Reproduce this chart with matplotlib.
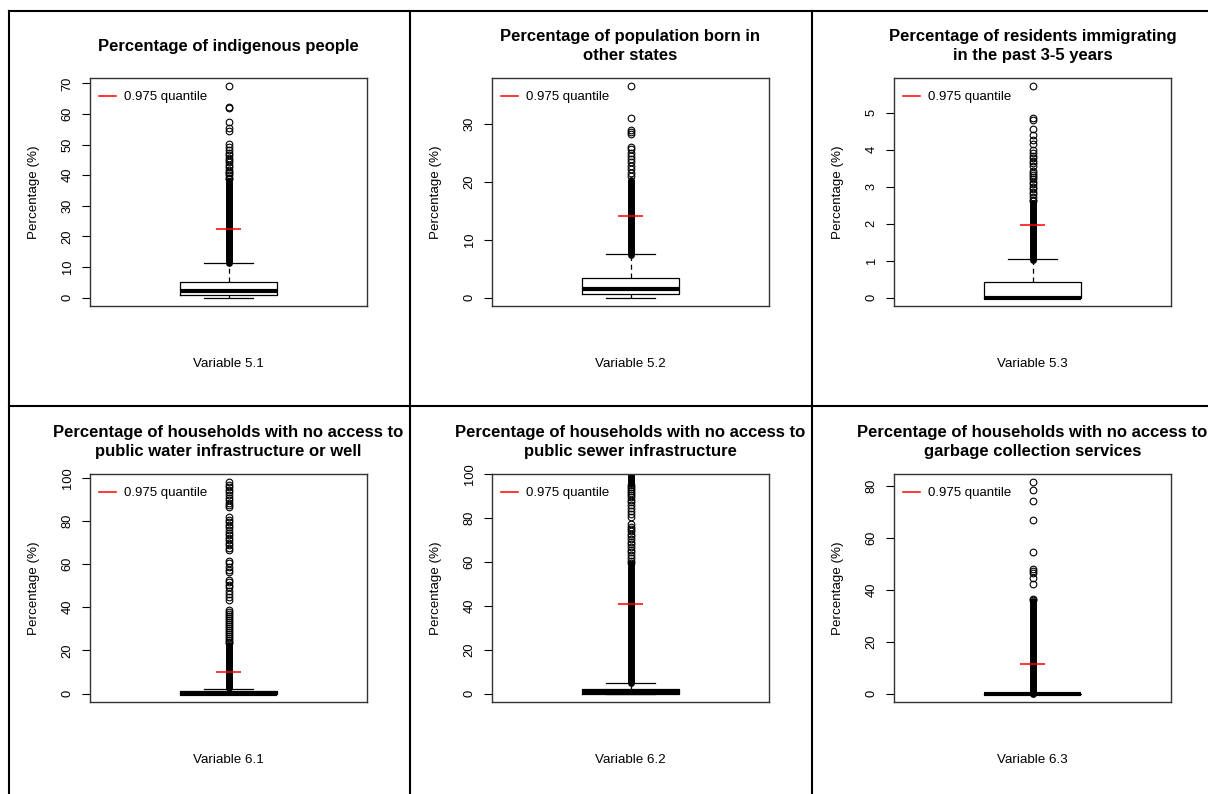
import numpy as np
import matplotlib
matplotlib.use("Agg")
import matplotlib.pyplot as plt
from matplotlib.lines import Line2D

plt.rcParams['font.family'] = ['Liberation Sans', 'DejaVu Sans']

################################################################################
# values (percent)

titles = [
    "Percentage of indigenous people",
    "Percentage of population born in\nother states",
    "Percentage of residents immigrating\nin the past 3-5 years",
    "Percentage of households with no access to\npublic water infrastructure or well",
    "Percentage of households with no access to\npublic sewer infrastructure",
    "Percentage of households with no access to\ngarbage collection services",
]
var_labels = ["Variable 5.1", "Variable 5.2", "Variable 5.3",
              "Variable 6.1", "Variable 6.2", "Variable 6.3"]

q1 = [0.9, 0.6, 0.0, 0.0, 0.0, 0.0]
median = [2.0, 1.4, 0.0, 0.0, 0.65, 0.0]
q3 = [5.05, 3.4, 0.41, 1.1, 1.9, 0.0]
whis_lo = [0.0, 0.0, 0.0, 0.0, 0.0, 0.0]
whis_hi = [11.4, 7.5, 1.04, 2.3, 4.9, 0.0]
q975 = [22.3, 14.1, 1.96, 10.0, 40.7, 11.2]

y_ticks = [
    [0, 10, 20, 30, 40, 50, 60, 70],
    [0, 10, 20, 30],
    [0, 1, 2, 3, 4, 5],
    [0, 20, 40, 60, 80, 100],
    [0, 20, 40, 60, 80, 100],
    [0, 20, 40, 60, 80],
]

# individually visible outliers
outliers_1 = [69.0, 62.3, 61.8, 57.5, 55.5, 54.6, 50.3, 49.3, 48.2, 47.4, 46.5,
              45.6, 45.0, 44.2, 43.4, 42.6, 41.8, 41.2, 40.6, 40.0, 39.2, 38.6]
outliers_2 = [36.5, 31.0, 28.9, 28.6, 28.2, 26.1, 25.6, 25.0, 24.5, 24.0, 23.4,
              22.8, 22.2, 21.6, 21.0]
outliers_3 = [5.71, 4.87, 4.80, 4.57, 4.39, 4.27, 4.14, 4.00, 3.91, 3.84, 3.78,
              3.70, 3.64, 3.55, 3.42, 3.37, 3.31, 3.26, 3.20, 3.13, 3.06, 3.00,
              2.93, 2.86, 2.79, 2.72, 2.65, 2.60]
outliers_4 = [97.8, 96.8, 95.6, 94.4, 93.2, 92.0, 90.8, 89.6, 88.4, 87.2, 86.3,
              81.8, 80.6, 79.4, 78.2, 77.0, 75.8, 74.6, 73.4, 72.2, 71.0, 69.8,
              68.6, 67.4, 66.3, 61.5, 60.3, 58.4, 57.2, 56.2, 52.8, 51.6, 50.5,
              49.5, 47.6, 46.2, 44.8, 43.4, 38.5, 37.6, 36.7, 35.8, 34.9, 34.0,
              33.1, 32.2, 31.3, 30.4, 29.5, 28.6, 27.7, 26.8, 25.9, 25.0, 24.1,
              23.2]
outliers_5 = [95.0, 94.2, 93.2, 92.3, 91.5, 90.6, 89.5, 88.3, 87.2, 86.0, 84.5,
              83.2, 81.8, 80.3, 77.3, 76.0, 75.0, 74.0, 72.8, 71.6, 70.3, 69.2,
              68.0, 66.8, 65.6, 64.3, 63.0, 61.8, 60.6, 59.4]
outliers_6 = [81.3, 78.5, 74.2, 66.8, 54.5, 47.8, 47.2, 46.5, 44.6, 42.3, 36.3,
              35.9]
outliers = [outliers_1, outliers_2, outliers_3, outliers_4, outliers_5, outliers_6]

# ranges where the outlier circles overlap into a solid column
dense_bands = [
    [(11.4, 38.0)],
    [(7.4, 20.4)],
    [(1.02, 2.56)],
    [(2.4, 22.4)],
    [(4.9, 58.8), (95.4, 100.0)],
    [(0.0, 35.6)],
]

################################################################################

W, H = 1208, 794
fig = plt.figure(figsize=(W / 100, H / 100), dpi=100)

ax_left = [90, 492, 894]
ax_top = [78, 474]
ax_w, ax_h = 277, 228

for i in range(6):
    row, col = divmod(i, 3)
    left = ax_left[col] / W
    bottom = (H - ax_top[row] - ax_h) / H
    ax = fig.add_axes([left, bottom, ax_w / W, ax_h / H])

    stats = [dict(med=median[i], q1=q1[i], q3=q3[i], whislo=whis_lo[i],
                  whishi=whis_hi[i], fliers=outliers[i])]
    ax.bxp(stats, positions=[1], widths=0.38,
           boxprops=dict(color='black', linewidth=0.9),
           medianprops=dict(color='black', linewidth=3),
           whiskerprops=dict(color='black', linewidth=0.9, linestyle=(0, (4, 3))),
           capprops=dict(color='black', linewidth=0.9),
           capwidths=0.19,
           flierprops=dict(marker='o', markersize=4.8, markerfacecolor='none',
                           markeredgecolor='black', markeredgewidth=0.8))
    for lo, hi in dense_bands[i]:
        ax.vlines(1, lo, hi, color='black', linewidth=5.0, capstyle='round')
    ax.hlines(q975[i], 1 - 0.05, 1 + 0.05, color='red', linewidth=1.1, zorder=5)

    data_max = max(outliers[i])
    data_min = whis_lo[i]
    rng = data_max - data_min
    ax.set_ylim(data_min - 0.04 * rng, data_max + 0.04 * rng)
    ax.set_xlim(0.46, 1.54)
    ax.set_xticks([])
    ax.set_yticks(y_ticks[i])
    ax.set_yticklabels([str(t) for t in y_ticks[i]])
    ax.tick_params(axis='y', length=5.8, width=0.8, pad=6, labelsize=9.3,
                   labelrotation=90, colors='black')
    for lab in ax.get_yticklabels():
        lab.set_va('center')
    for sp in ax.spines.values():
        sp.set_color('#333333')
        sp.set_linewidth(1.0)

    ax.text(0.5, 1 + 32 / ax_h, titles[i], transform=ax.transAxes,
            ha='center', va='center', fontsize=12, fontweight='bold',
            linespacing=1.3)
    ax.text(0.5, -58 / ax_h, var_labels[i], transform=ax.transAxes,
            ha='center', va='center', fontsize=9.6)
    ax.text(-56 / ax_w, 0.5, "Percentage (%)", transform=ax.transAxes,
            ha='center', va='center', rotation=90, fontsize=9.6)

    handle = Line2D([], [], color='red', linewidth=1.1)
    ax.legend([handle], ["0.975 quantile"], loc='upper left',
              bbox_to_anchor=(9 / ax_w, 1 - 13 / ax_h), frameon=False,
              fontsize=9.5, handlelength=1.3, handletextpad=0.6,
              borderpad=0, borderaxespad=0)

# table borders
def fig_line(x0, y0, x1, y1):
    fig.add_artist(Line2D([x0 / W, x1 / W], [1 - y0 / H, 1 - y1 / H],
                          color='black', linewidth=1.5))

fig_line(9, 11, W, 11)
fig_line(9, 406, W, 406)
fig_line(9, 11, 9, H)
fig_line(410, 11, 410, H)
fig_line(812, 11, 812, H)

fig.savefig("out.png", dpi=100)
